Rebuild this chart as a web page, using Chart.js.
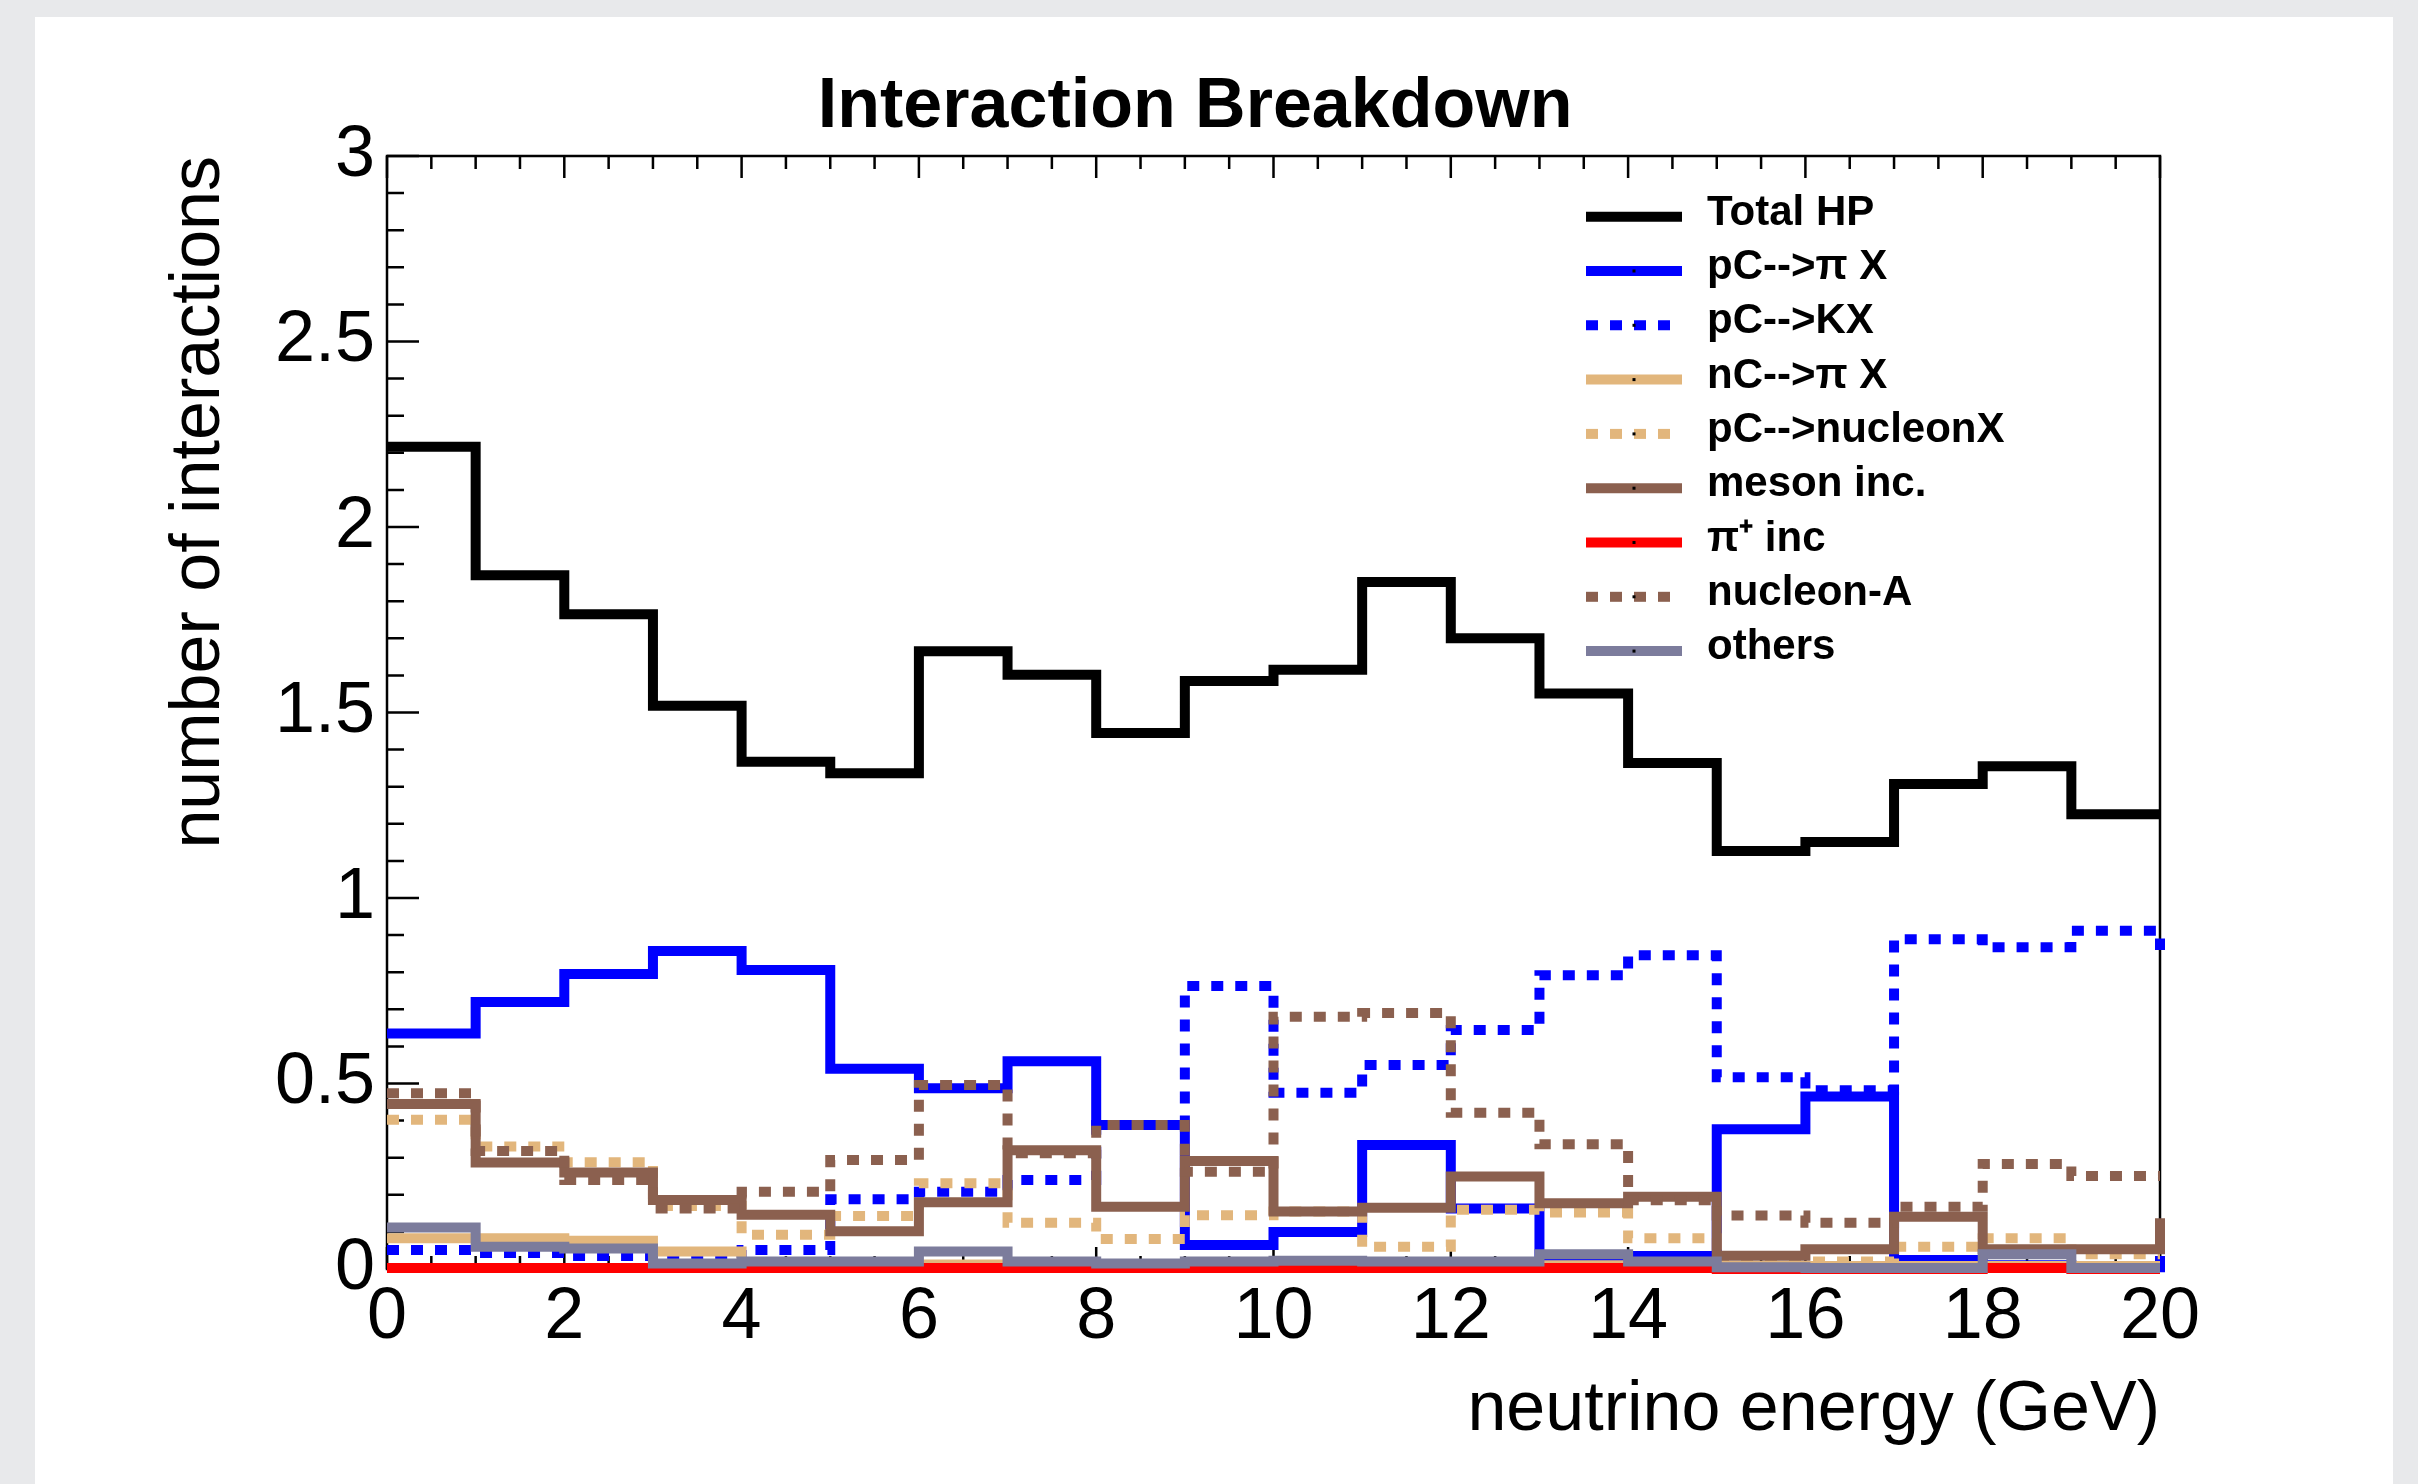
<!DOCTYPE html>
<html>
<head>
<meta charset="utf-8">
<title>Interaction Breakdown</title>
<script src="https://cdn.jsdelivr.net/npm/chart.js@4.4.1/dist/chart.umd.min.js"></script>
<style>
  html, body { margin: 0; padding: 0; }
  body { width: 2418px; height: 1484px; background: #e8e9eb; position: relative; overflow: hidden; }
  #card { position: absolute; left: 35px; top: 17px; width: 2358px; height: 1467px; background: #fff; }
  #card canvas { display: block; }
</style>
</head>
<body>
<div id="card"><canvas id="breakdownChart"></canvas></div>
<script>
// lower bin edges (GeV); 1 GeV bins, the last one (20-21) is only seen as the step at the frame edge
const binLowEdges = [0, 1, 2, 3, 4, 5, 6, 7, 8, 9, 10, 11, 12, 13, 14, 15, 16, 17, 18, 19, 20];

const totalHP       = [2.216, 1.870, 1.765, 1.518, 1.367, 1.336, 1.665, 1.602, 1.445, 1.585, 1.615, 1.852, 1.700, 1.551, 1.364, 1.127, 1.151, 1.307, 1.355, 1.226, 1.226];
const pCtoPiX       = [0.635, 0.720, 0.795, 0.857, 0.806, 0.540, 0.487, 0.560, 0.388, 0.065, 0.100, 0.334, 0.163, 0.020, 0.035, 0.377, 0.465, 0.024, 0.010, 0.005, 0.035];
const pCtoKX        = [0.051, 0.043, 0.035, 0.030, 0.051, 0.188, 0.208, 0.240, 0.388, 0.763, 0.475, 0.550, 0.644, 0.792, 0.846, 0.517, 0.482, 0.889, 0.867, 0.912, 0.860];
const nCtoPiX       = [0.083, 0.083, 0.076, 0.047, 0.015, 0.012, 0.012, 0.010, 0.010, 0.010, 0.010, 0.010, 0.010, 0.010, 0.010, 0.008, 0.008, 0.008, 0.008, 0.008, 0.008];
const pCtoNucleonX  = [0.402, 0.330, 0.288, 0.170, 0.092, 0.143, 0.231, 0.125, 0.081, 0.145, 0.155, 0.060, 0.160, 0.152, 0.083, 0.020, 0.020, 0.060, 0.083, 0.040, 0.040];
const mesonInc      = [0.445, 0.287, 0.260, 0.186, 0.146, 0.102, 0.180, 0.320, 0.168, 0.291, 0.155, 0.165, 0.249, 0.177, 0.195, 0.036, 0.053, 0.141, 0.053, 0.053, 0.137];
const piPlusInc     = [0.003, 0.003, 0.003, 0.003, 0.003, 0.003, 0.003, 0.003, 0.003, 0.003, 0.003, 0.003, 0.003, 0.003, 0.003, 0.000, 0.000, 0.000, 0.003, 0.000, 0.000];
const nucleonA      = [0.474, 0.318, 0.240, 0.163, 0.208, 0.294, 0.496, 0.312, 0.388, 0.262, 0.680, 0.690, 0.421, 0.336, 0.185, 0.144, 0.125, 0.168, 0.283, 0.251, 0.251];
const others        = [0.112, 0.060, 0.055, 0.015, 0.020, 0.020, 0.047, 0.020, 0.015, 0.020, 0.022, 0.020, 0.020, 0.040, 0.020, 0.005, 0.003, 0.003, 0.040, 0.003, 0.003];

const xTickValues = [0, 2, 4, 6, 8, 10, 12, 14, 16, 18, 20];
const yTickValues = [0, 0.5, 1, 1.5, 2, 2.5, 3];

const FONT = '"Liberation Sans", Arial, Helvetica, sans-serif';

// one histogram outline: point at each lower edge, stepped so the value holds across the bin
function histDataset(label, values, color, dotted, order) {
    const points = values.map((v, i) => ({ x: binLowEdges[i], y: v }));
    points.push({ x: binLowEdges[values.length - 1] + 1, y: values[values.length - 1] });
    return {
        label: label,
        data: points,
        borderColor: color,
        backgroundColor: color,
        borderWidth: 10,
        borderDash: dotted ? [12, 12] : [],
        borderCapStyle: 'butt',
        borderJoinStyle: 'miter',
        stepped: 'before',
        pointRadius: 0,
        fill: false,
        order: order,
        clip: { left: 0, top: 0, right: 5, bottom: 6 }
    };
}

const series = [
    ['Total HP', totalHP, '#000000', false],
    ['pC-->\u03c0 X', pCtoPiX, '#0000ff', false],
    ['pC-->KX', pCtoKX, '#0000ff', true],
    ['nC-->\u03c0 X', nCtoPiX, '#e2b67c', false],
    ['pC-->nucleonX', pCtoNucleonX, '#e2b67c', true],
    ['meson inc.', mesonInc, '#8b604f', false],
    ['\u03c0\u207a inc', piPlusInc, '#ff0000', false],
    ['nucleon-A', nucleonA, '#8b604f', true],
    ['others', others, '#7c7c9c', false]
];

// ROOT-like frame with inward ticks on left, bottom and top
const frameTicks = {
    id: 'frameTicks',
    beforeDatasetsDraw(chart) {
        const { ctx, chartArea: a, scales: { x, y } } = chart;
        ctx.save();
        ctx.strokeStyle = '#000';
        ctx.lineWidth = 2.5;
        ctx.strokeRect(a.left, a.top, a.right - a.left, a.bottom - a.top);
        ctx.beginPath();
        for (let k = 0; k <= 30; k++) {
            const p = y.getPixelForValue(k / 10);
            const len = (k % 5 === 0) ? 32 : 17;
            ctx.moveTo(a.left, p);
            ctx.lineTo(a.left + len, p);
        }
        for (let k = 0; k <= 40; k++) {
            const p = x.getPixelForValue(k / 2);
            const len = (k % 4 === 0) ? 22 : 13;
            ctx.moveTo(p, a.bottom);
            ctx.lineTo(p, a.bottom - len);
            ctx.moveTo(p, a.top);
            ctx.lineTo(p, a.top + len);
        }
        ctx.stroke();
        ctx.restore();
    }
};

// legend inside the frame (top right) and the pad title, which ROOT centres on the pad rather than the frame
const histLegend = {
    id: 'histLegend',
    afterDatasetsDraw(chart) {
        const { ctx, chartArea: a } = chart;
        const x1 = a.right - 574, x2 = a.right - 478, tx = a.right - 453;
        ctx.save();
        chart.data.datasets.forEach((ds, i) => {
            const yy = a.top + 60.7 + i * 54.3;
            ctx.strokeStyle = ds.borderColor;
            ctx.lineWidth = 10;
            ctx.lineCap = 'butt';
            ctx.setLineDash(ds.borderDash);
            ctx.beginPath();
            ctx.moveTo(x1, yy);
            ctx.lineTo(x2, yy);
            ctx.stroke();
            ctx.setLineDash([]);
            ctx.fillStyle = '#000';
            ctx.fillRect((x1 + x2) / 2 - 1.5, yy - 1.5, 3, 3);
            ctx.font = 'bold 42px ' + FONT;
            ctx.textBaseline = 'alphabetic';
            ctx.textAlign = 'left';
            ctx.fillText(ds.label, tx, yy + 8);
        });

        ctx.font = 'bold 70px ' + FONT;
        ctx.textAlign = 'center';
        ctx.textBaseline = 'middle';
        ctx.fillStyle = '#000';
        ctx.fillText('Interaction Breakdown', chart.width * 0.492, 91);
        ctx.restore();
    }
};

Chart.defaults.color = '#000';
Chart.defaults.font.family = FONT;

const ctx = document.getElementById('breakdownChart').getContext('2d');
new Chart(ctx, {
    type: 'line',
    data: {
        datasets: series.map((s, i) => histDataset(s[0], s[1], s[2], s[3], series.length - i))
    },
    options: {
        responsive: true,
        maintainAspectRatio: false,
        devicePixelRatio: 1,
        animation: false,
        layout: { padding: { left: 0, right: 233, top: 139, bottom: 0 } },
        plugins: {
            legend: { display: false },
            tooltip: { enabled: false },
            title: { display: false }
        },
        scales: {
            x: {
                type: 'linear',
                min: 0,
                max: 20,
                afterFit: scale => { scale.height = 215; },
                afterBuildTicks: scale => { scale.ticks = xTickValues.map(v => ({ value: v })); },
                grid: { display: false, drawTicks: false, tickLength: 0 },
                border: { display: false },
                ticks: {
                    padding: 6,
                    maxRotation: 0,
                    autoSkip: false,
                    font: { size: 72, family: FONT, lineHeight: 1.2 },
                    callback: v => String(v)
                },
                title: {
                    display: true,
                    text: 'neutrino energy (GeV)',
                    align: 'end',
                    font: { size: 70, family: FONT, lineHeight: 1.2 },
                    padding: { top: 0, bottom: 31 }
                }
            },
            y: {
                type: 'linear',
                min: 0,
                max: 3,
                afterFit: scale => { scale.width = 352; },
                afterBuildTicks: scale => { scale.ticks = yTickValues.map(v => ({ value: v })); },
                grid: { display: false, drawTicks: false, tickLength: 0 },
                border: { display: false },
                ticks: {
                    padding: 12,
                    autoSkip: false,
                    font: { size: 72, family: FONT, lineHeight: 1.2 },
                    callback: v => String(v)
                },
                title: {
                    display: true,
                    text: 'number of interactions',
                    align: 'end',
                    font: { size: 70, family: FONT, lineHeight: 1.2 },
                    padding: { top: 123, bottom: 0 }
                }
            }
        }
    },
    plugins: [frameTicks, histLegend]
});
</script>
</body>
</html>
